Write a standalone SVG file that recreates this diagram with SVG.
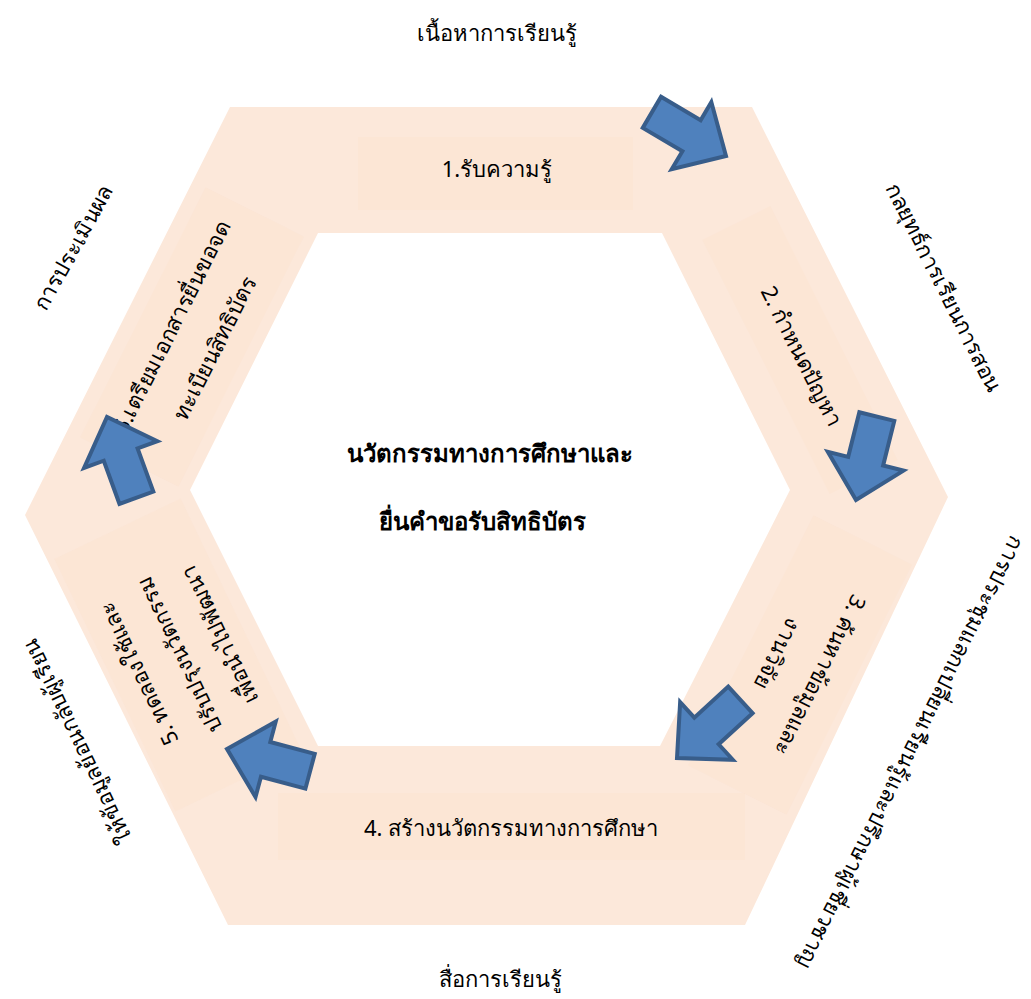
<svg xmlns="http://www.w3.org/2000/svg" width="1031" height="999" viewBox="0 0 1031 999">
<defs>
<style>
.t{font-family:'Noto Sans',sans-serif;font-size:22px;fill:#000;text-anchor:middle;dominant-baseline:central}
.c{font-weight:bold;font-size:24px}
.box{fill:#fbe3d1;opacity:.55}
.arr{fill:#4f81bd;stroke:#385d8a;stroke-width:4;stroke-linejoin:miter}
</style>
<path id="arrow" d="M-86,-18 L-40,-18 L-40,-39 L0,0 L-40,39 L-40,18 L-86,18 Z"/>
</defs>
<rect width="1031" height="999" fill="#fff"/>
<g id="ring">
<path fill="#fce8da" fill-rule="evenodd" d="M230,107 L752,107 L948,497 L745,925 L228,925 L25,515 Z M318,233 L190,490 L318,746 L660,746 L790,490 L662,233 Z"/>
</g>
<g id="center">
<text class="t c" x="490" y="452">นวัตกรรมทางการศึกษาและ</text>
<text class="t c" x="482" y="520">ยื่นคำขอรับสิทธิบัตร</text>
</g>
<g id="step1">
<rect class="box" x="358" y="137" width="275" height="73"/>
<text class="t" x="497" y="168">1.รับความรู้</text>
</g>
<g id="step2" transform="translate(800,350) rotate(63.4)">
<rect class="box" x="-142" y="-38" width="284" height="76"/>
<text class="t" x="6" y="0">2. กำหนดปัญหา</text>
</g>
<g id="step3" transform="translate(800,665) rotate(116.6)">
<rect class="box" x="-140" y="-55" width="280" height="110"/>
<text class="t" x="0" y="-24">3. ค้นหาข้อมูลและ</text>
<text class="t" x="0" y="24">งานวิจัย</text>
</g>
<g id="step4">
<rect class="box" x="278" y="793" width="467" height="67"/>
<text class="t" x="511" y="827">4. สร้างนวัตกรรมทางการศึกษา</text>
</g>
<g id="step5" transform="translate(178,655) rotate(244.4)">
<rect class="box" x="-140" y="-70" width="280" height="140"/>
<text class="t" x="0" y="-45">5. ทดลองใช้และ</text>
<text class="t" x="0" y="0">ปรับปรุงนวัตกรรม</text>
<text class="t" x="0" y="45">เพื่อนำไปพัฒนา</text>
</g>
<g id="step6" transform="translate(192,337) rotate(-63.4)">
<rect class="box" x="-140" y="-55" width="280" height="110"/>
<text class="t" x="0" y="-24">6.เตรียมเอกสารยื่นขอจด</text>
<text class="t" x="0" y="24">ทะเบียนสิทธิบัตร</text>
</g>
<g id="outer-labels">
<text class="t" x="497" y="32">เนื้อหาการเรียนรู้</text>
<text class="t" transform="translate(945,287) rotate(63.4)">กลยุทธ์การเรียนการสอน</text>
<text class="t" transform="translate(912,753) rotate(116.6)">การประชุมแลกเปลี่ยนเรียนรู้และปรึกษาผู้เชี่ยวชาญ</text>
<text class="t" x="500" y="978">สื่อการเรียนรู้</text>
<text class="t" transform="translate(76,742) rotate(244.4)">ให้ข้อมูลย้อนกลับผู้เรียน</text>
<text class="t" transform="translate(72,247) rotate(-61)">การประเมินผล</text>
</g>
<g id="connectors">
<use href="#arrow" class="arr" transform="translate(726,156) rotate(30.5)"/>
<use href="#arrow" class="arr" transform="translate(856,500) rotate(104)"/>
<use href="#arrow" class="arr" transform="translate(677,758) rotate(137.5)"/>
<use href="#arrow" class="arr" transform="translate(227,749) rotate(195)"/>
<use href="#arrow" class="arr" transform="translate(107,417) rotate(250)"/>
</g>
</svg>
